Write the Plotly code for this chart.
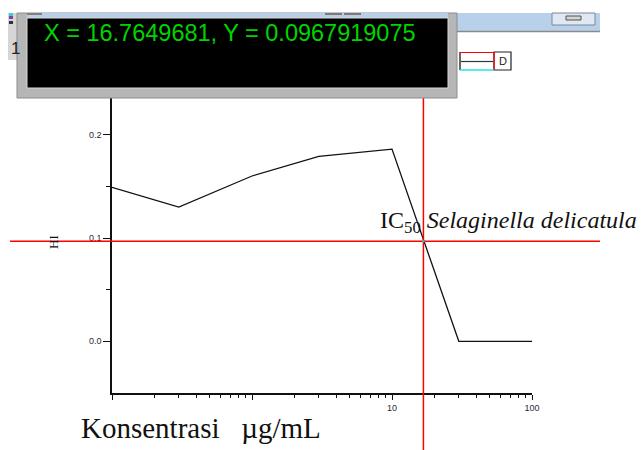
import math
import plotly.graph_objects as go

# ---- data ----
konsentrasi = [0.1, 0.3, 1, 3, 10, 30, 100]          # µg/mL
hambatan = [0.149, 0.130, 0.160, 0.179, 0.186, 0.0, 0.0]
ic50_x = 16.7649681
ic50_y = 0.0967919075
x_tickvals = [0.1, 1, 10, 100]
x_ticktext = ["", "", "10", "100"]
x_minor = [0.2, 0.3, 0.4, 0.5, 0.6, 0.7, 0.8, 0.9,
           2, 3, 4, 5, 6, 7, 8, 9,
           20, 30, 40, 50, 60, 70, 80, 90]
y_tickvals = [0.0, 0.1, 0.2]
y_ticktext = ["0.0", "0.1", "0.2"]
y_minor = [0.05, 0.15, 0.25]
reader_text = "X = 16.7649681, Y = 0.0967919075"

W, H = 641, 450
L, R, T, B = 112, 109, 83, 57
XR = [-1, 2]          # log10 range
YR = [-0.05, 0.25]


def pxx(p):
    return (p - L) / (W - L - R)


def pxy(p):
    return (H - B - p) / (H - T - B)


def dx(v):
    return (math.log10(v) - XR[0]) / (XR[1] - XR[0])


def dy(v):
    return (v - YR[0]) / (YR[1] - YR[0])


fig = go.Figure()
fig.add_trace(go.Scatter(x=konsentrasi, y=hambatan, mode="lines",
                         line=dict(color="#111111", width=1.3),
                         showlegend=False, hoverinfo="skip"))

tickfont = dict(family="Liberation Sans, Arial", size=9, color="#2a2a3a")
fig.update_layout(
    width=W, height=H,
    margin=dict(l=L, r=R, t=T, b=B, pad=0),
    paper_bgcolor="white", plot_bgcolor="white",
    showlegend=False,
    xaxis=dict(type="log", range=XR, showgrid=False, zeroline=False,
               showline=True, linecolor="#111111", linewidth=1.5,
               ticks="outside", ticklen=5, tickwidth=1.2, tickcolor="#111111",
               tickvals=x_tickvals, ticktext=x_ticktext, tickfont=tickfont,
               minor=dict(tickvals=x_minor, ticks="outside", ticklen=3,
                          tickwidth=1.2, tickcolor="#111111", showgrid=False)),
    yaxis=dict(range=YR, showgrid=False, zeroline=False,
               showline=True, linecolor="#111111", linewidth=1.5,
               ticks="outside", ticklen=7, tickwidth=1.2, tickcolor="#111111",
               tickvals=y_tickvals, ticktext=y_ticktext, tickfont=tickfont,
               minor=dict(tickvals=y_minor, ticks="outside", ticklen=4,
                          tickwidth=1.2, tickcolor="#111111", showgrid=False)),
)

shapes = []
red = "#ff0000"
# crosshair of the data reader
shapes.append(dict(type="line", xref="paper", yref="paper",
                   x0=pxx(10), x1=pxx(600), y0=dy(ic50_y), y1=dy(ic50_y),
                   line=dict(color=red, width=1.5), layer="above"))
shapes.append(dict(type="line", xref="paper", yref="paper",
                   x0=dx(ic50_x), x1=dx(ic50_x), y0=pxy(452), y1=pxy(60),
                   line=dict(color=red, width=1.5), layer="above"))
shapes.append(dict(type="circle", xref="paper", yref="paper",
                   x0=dx(ic50_x) - 1.2 / 420, x1=dx(ic50_x) + 1.2 / 420,
                   y0=dy(ic50_y) - 1.2 / 310, y1=dy(ic50_y) + 1.2 / 310,
                   fillcolor="#30c0c0", line=dict(width=0), layer="above"))


def rect(x0, y0, x1, y1, fill, line=None, lw=0):
    shapes.append(dict(type="rect", xref="paper", yref="paper",
                       x0=pxx(x0), x1=pxx(x1), y0=pxy(y1), y1=pxy(y0),
                       fillcolor=fill,
                       line=dict(color=line or fill, width=lw), layer="above"))


def hline(x0, x1, y, color, w=1.3):
    shapes.append(dict(type="line", xref="paper", yref="paper",
                       x0=pxx(x0), x1=pxx(x1), y0=pxy(y), y1=pxy(y),
                       line=dict(color=color, width=w), layer="above"))


def vline(x, y0, y1, color, w=1.3):
    shapes.append(dict(type="line", xref="paper", yref="paper",
                       x0=pxx(x), x1=pxx(x), y0=pxy(y0), y1=pxy(y1),
                       line=dict(color=color, width=w), layer="above"))


# left strip of background window
rect(8, 13, 17, 60, "#d6d6d6")
rect(9, 13, 13, 16, "#40c8e0")
rect(9, 16, 13, 19, "#8040a0")
rect(9, 21, 13, 24, "#303030")
# right background window title bar
rect(457, 13, 600, 31, "#b8d0ea")
hline(457, 600, 31.5, "#8a8a8a", 1.5)
rect(552, 13, 595, 25, "#dfe8f3", "#7a8898", 1)
rect(566, 16, 581, 20, "#d4d4d4", "#505050", 1)
# data reader window
rect(17, 13, 457, 98, "#b6b6b6", "#8c8c8c", 1)
rect(27, 13, 448, 18, "#b8cfe8")
rect(27, 13, 42, 15, "#808080")
rect(325, 13, 342, 15, "#7a7a7a")
rect(344, 13, 361, 15, "#7a7a7a")
rect(27, 18, 448, 88, "#000000", "#d8d8d8", 1)
# legend box (partially selected)
rect(494, 52, 511, 70, "white", "#222222", 1.2)
vline(460, 52, 70, "#333333", 1.5)
hline(460, 494, 52.5, red, 1.2)
vline(494, 52, 70, red, 1.2)
hline(460, 494, 70, "#20e0f0", 1.3)
hline(461, 493, 61.5, "#333333", 1.2)

fig.update_layout(shapes=shapes)

ann = []
ann.append(dict(text=reader_text, xref="paper", yref="paper",
                x=pxx(42), y=pxy(33), xanchor="left", yanchor="middle",
                showarrow=False,
                font=dict(family="Liberation Sans, Arial", size=23.5, color="#00d400")))
ann.append(dict(text="1", xref="paper", yref="paper", x=pxx(9), y=pxy(48),
                xanchor="left", yanchor="middle", showarrow=False,
                font=dict(family="Liberation Sans, Arial", size=17, color="#222222")))
ann.append(dict(text="D", xref="paper", yref="paper", x=pxx(502.5), y=pxy(61),
                xanchor="center", yanchor="middle", showarrow=False,
                font=dict(family="Liberation Sans, Arial", size=11, color="#222222")))
ann.append(dict(text="IC<sub>50</sub> <i>Selaginella delicatula</i>",
                xref="paper", yref="paper", x=pxx(378), y=pxy(222),
                xanchor="left", yanchor="middle", showarrow=False,
                font=dict(family="Liberation Serif, Times New Roman", size=24,
                          color="#111111")))
ann.append(dict(text="Konsentrasi\u00a0\u00a0\u00a0µg/mL",
                xref="paper", yref="paper", x=pxx(79), y=pxy(428),
                xanchor="left", yanchor="middle", showarrow=False,
                font=dict(family="Liberation Serif, Times New Roman", size=29,
                          color="#111111")))
ann.append(dict(text="HI", xref="paper", yref="paper", x=pxx(53), y=pxy(242),
                xanchor="center", yanchor="middle", showarrow=False,
                textangle=-90,
                font=dict(family="Liberation Serif, Times New Roman", size=13,
                          color="#111111")))
fig.update_layout(annotations=ann)

fig.write_html("out.html",
               config={"displayModeBar": False},
               post_script="document.body.style.margin='0';"
                           "document.body.style.padding='0';")
